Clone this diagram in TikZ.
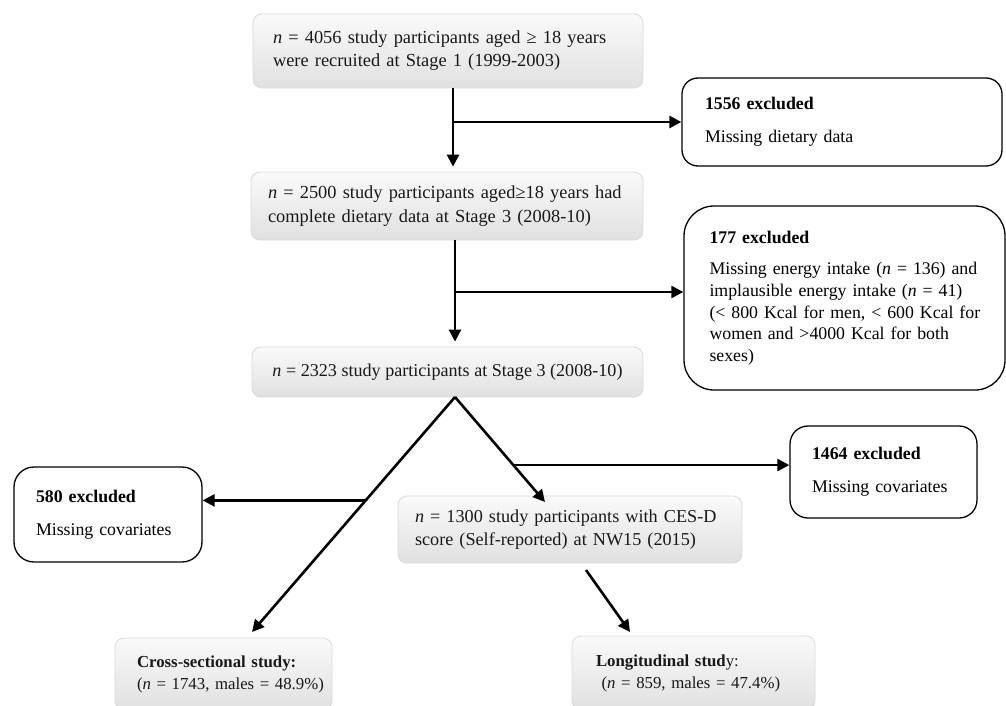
\documentclass[tikz,border=0pt]{standalone}
\usepackage{fontspec}
\setmainfont{Liberation Serif}
\usetikzlibrary{arrows.meta,calc}

\begin{document}
\begin{tikzpicture}[x=1pt,y=-1pt,
  font=\fontsize{17.8}{21.7}\selectfont,
  graybox/.style={rounded corners=9pt, draw=gray!30, line width=0.8pt,
    top color=gray!4, bottom color=gray!24, text=black!90,
    align=left, inner sep=0pt},
  whitebox/.style={draw=black, line width=1.3pt, fill=white,
    align=left, inner sep=0pt},
  flow/.style={line width=2.6pt, -{Triangle[length=12pt,width=12pt]}}
]
\useasboundingbox (0,0) rectangle (1006,706);

% main stages
\node[graybox, minimum width=390, minimum height=74, text width=350,
      font=\fontsize{18.4}{23}\selectfont] (s1) at (448,51)
  {\mbox{\textit{n} = 4056 study participants aged ≥ 18 years}\\\mbox{were recruited at Stage 1 (1999-2003)}};
\node[graybox, minimum width=392, minimum height=68, text width=358,
      font=\fontsize{18.4}{24}\selectfont] (s2) at (447,206)
  {\mbox{\textit{n} = 2500 study participants aged≥18 years had}\\\mbox{complete dietary data at Stage 3 (2008-10)}};
\node[graybox, minimum width=391, minimum height=50,
      font=\fontsize{18.1}{22}\selectfont] (s3) at (447.5,372)
  {\textit{n} = 2323 study participants at Stage 3 (2008-10)};
\node[graybox, minimum width=344, minimum height=67, text width=310,
      font=\fontsize{18.2}{23}\selectfont] (s4) at (570,529.5)
  {\mbox{\textit{n} = 1300 study participants with CES-D}\\\mbox{score (Self-reported) at NW15 (2015)}};
\node[graybox, minimum width=217, minimum height=72, text width=173,
      font=\fontsize{16.8}{22}\selectfont] (cs) at (223.5,674)
  {\mbox{\textbf{Cross-sectional study:}}\\\mbox{(\textit{n} = 1743, males = 48.9\%)}};
\node[graybox, minimum width=243, minimum height=74, text width=195,
      font=\fontsize{16.8}{22}\selectfont] (lg) at (693.5,673)
  {\mbox{\textbf{Longitudinal stud}y:}\\\mbox{ (\textit{n} = 859, males = 47.4\%)}};

% exclusions
\node[whitebox, rounded corners=16pt, minimum width=320, minimum height=88, text width=274] (e1) at (842,122)
  {\textbf{1556 excluded}\\[11pt]Missing dietary data};
\node[whitebox, rounded corners=30pt, minimum width=321, minimum height=184, text width=270] (e2) at (844.5,298)
  {\textbf{177 excluded}\\[10pt]\mbox{Missing energy intake (\textit{n} = 136) and}\\\mbox{implausible energy intake (\textit{n} = 41)}\\\mbox{(< 800 Kcal for men, < 600 Kcal for}\\\mbox{women and >4000 Kcal for both}\\sexes)};
\node[whitebox, rounded corners=20pt, minimum width=188, minimum height=95, text width=144] (e3) at (108,514.5)
  {\textbf{580 excluded}\\[11pt]Missing covariates};
\node[whitebox, rounded corners=18pt, minimum width=187, minimum height=92, text width=143] (e4) at (883.5,472)
  {\textbf{1464 excluded}\\[11pt]Missing covariates};

% connectors
\coordinate (t1) at (453,88);
\coordinate (j1) at (453,122);
\coordinate (t2) at (455,240);
\coordinate (j2) at (455,292);
\coordinate (apex) at (455,397);
\coordinate (tipcs) at (252,632);
\coordinate (tips4) at (545,502);
\coordinate (jl) at ($(apex)!0.44!(tipcs)$);
\coordinate (jr) at ($(apex)!0.648!(tips4)$);
\coordinate (b4) at (586,570);
\coordinate (tiplg) at (630,632);

\draw[flow] (t1) -- (t1 |- s2.north) [shorten >=5pt];
\draw[flow] (j1) -- (j1 -| e1.west);
\draw[flow] (t2) -- (t2 |- s3.north) [shorten >=5pt];
\draw[flow] (j2) -- (j2 -| e2.west);
\draw[flow] (apex) -- (tipcs);
\draw[flow] (apex) -- (tips4);
\draw[flow] (jl) -- (jl -| e3.east);
\draw[flow] (jr) -- (jr -| e4.west);
\draw[flow] (b4) -- (tiplg);
\end{tikzpicture}
\end{document}
